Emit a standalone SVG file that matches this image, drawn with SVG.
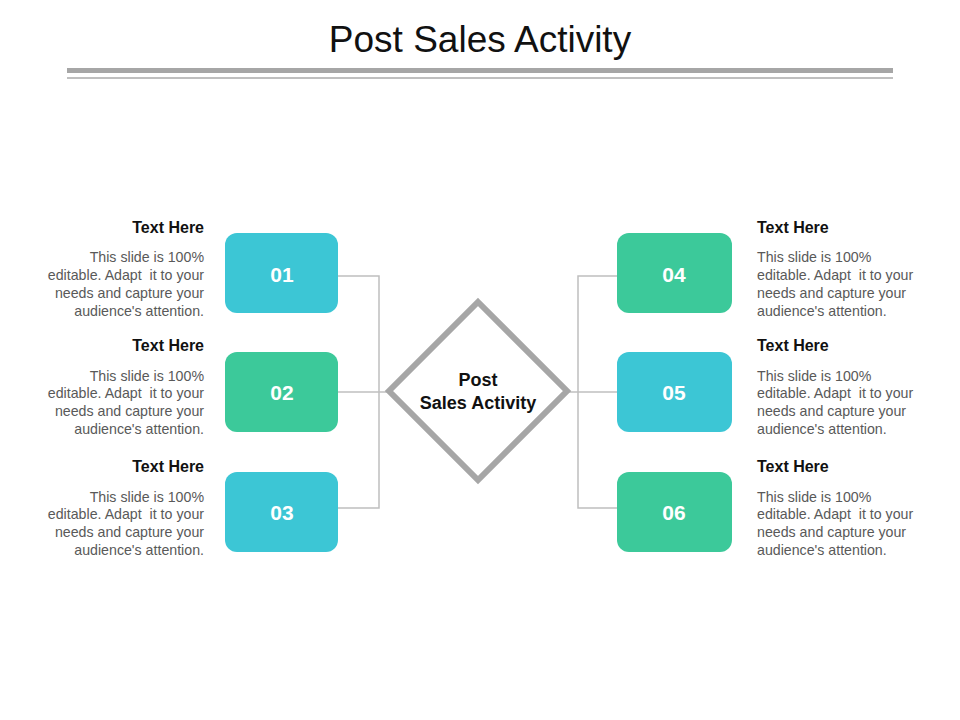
<svg xmlns="http://www.w3.org/2000/svg" width="960" height="720" viewBox="0 0 960 720">
<style>
.title{font-family:"Liberation Sans",Arial,sans-serif;font-size:37px;fill:#111;text-anchor:middle}
.hd{font-family:"Liberation Sans",Arial,sans-serif;font-size:16px;font-weight:bold;fill:#111}
.bd{font-family:"Liberation Sans",Arial,sans-serif;font-size:14.2px;fill:#595959;white-space:pre}
.num{font-family:"Liberation Sans",Arial,sans-serif;font-size:21px;font-weight:bold;fill:#fff;text-anchor:middle}
.ctr{font-family:"Liberation Sans",Arial,sans-serif;font-size:18px;font-weight:bold;fill:#111;text-anchor:middle}
.l{text-anchor:end}
.r{text-anchor:start}
.teal{fill:#3CC6D5}
.green{fill:#3CC99A}
.conn{fill:none;stroke:#BFBFBF;stroke-width:1.5}
</style>
<rect width="960" height="720" fill="#fff"/>
<g id="title">
<text class="title" x="480" y="52">Post Sales Activity</text>
<rect x="67" y="68" width="826" height="5" fill="#A6A6A6"/>
<rect x="67" y="77" width="826" height="2" fill="#BFBFBF"/>
</g>
<g id="connectors">
<polyline class="conn" points="338,276 379,276 379,508 338,508"/>
<line class="conn" x1="338" y1="392" x2="388" y2="392"/>
<polyline class="conn" points="617,276 578,276 578,508 617,508"/>
<line class="conn" x1="568" y1="392" x2="617" y2="392"/>
</g>
<g id="center">
<polygon points="478,302 567,391 478,480 389,391" fill="#fff" stroke="#A6A6A6" stroke-width="6"/>
<text class="ctr" x="478" y="386">Post</text>
<text class="ctr" x="478" y="409">Sales Activity</text>
</g>
<g id="n01">
<rect class="teal" x="225" y="233" width="113" height="80" rx="12"/>
<text class="num" x="282" y="282">01</text>
<text class="hd l" x="204" y="233">Text Here</text>
<text class="bd l" x="204" y="262">This slide is 100%</text>
<text class="bd l" x="204" y="280" xml:space="preserve">editable. Adapt  it to your</text>
<text class="bd l" x="204" y="298">needs and capture your</text>
<text class="bd l" x="204" y="316">audience's attention.</text>
</g>
<g id="n02">
<rect class="green" x="225" y="352" width="113" height="80" rx="12"/>
<text class="num" x="282" y="400">02</text>
<text class="hd l" x="204" y="351">Text Here</text>
<text class="bd l" x="204" y="381">This slide is 100%</text>
<text class="bd l" x="204" y="398" xml:space="preserve">editable. Adapt  it to your</text>
<text class="bd l" x="204" y="416">needs and capture your</text>
<text class="bd l" x="204" y="434">audience's attention.</text>
</g>
<g id="n03">
<rect class="teal" x="225" y="472" width="113" height="80" rx="12"/>
<text class="num" x="282" y="520">03</text>
<text class="hd l" x="204" y="472">Text Here</text>
<text class="bd l" x="204" y="502">This slide is 100%</text>
<text class="bd l" x="204" y="519" xml:space="preserve">editable. Adapt  it to your</text>
<text class="bd l" x="204" y="537">needs and capture your</text>
<text class="bd l" x="204" y="555">audience's attention.</text>
</g>
<g id="n04">
<rect class="green" x="617" y="233" width="115" height="80" rx="12"/>
<text class="num" x="674" y="282">04</text>
<text class="hd r" x="757" y="233">Text Here</text>
<text class="bd r" x="757" y="262">This slide is 100%</text>
<text class="bd r" x="757" y="280" xml:space="preserve">editable. Adapt  it to your</text>
<text class="bd r" x="757" y="298">needs and capture your</text>
<text class="bd r" x="757" y="316">audience's attention.</text>
</g>
<g id="n05">
<rect class="teal" x="617" y="352" width="115" height="80" rx="12"/>
<text class="num" x="674" y="400">05</text>
<text class="hd r" x="757" y="351">Text Here</text>
<text class="bd r" x="757" y="381">This slide is 100%</text>
<text class="bd r" x="757" y="398" xml:space="preserve">editable. Adapt  it to your</text>
<text class="bd r" x="757" y="416">needs and capture your</text>
<text class="bd r" x="757" y="434">audience's attention.</text>
</g>
<g id="n06">
<rect class="green" x="617" y="472" width="115" height="80" rx="12"/>
<text class="num" x="674" y="520">06</text>
<text class="hd r" x="757" y="472">Text Here</text>
<text class="bd r" x="757" y="502">This slide is 100%</text>
<text class="bd r" x="757" y="519" xml:space="preserve">editable. Adapt  it to your</text>
<text class="bd r" x="757" y="537">needs and capture your</text>
<text class="bd r" x="757" y="555">audience's attention.</text>
</g>
</svg>
